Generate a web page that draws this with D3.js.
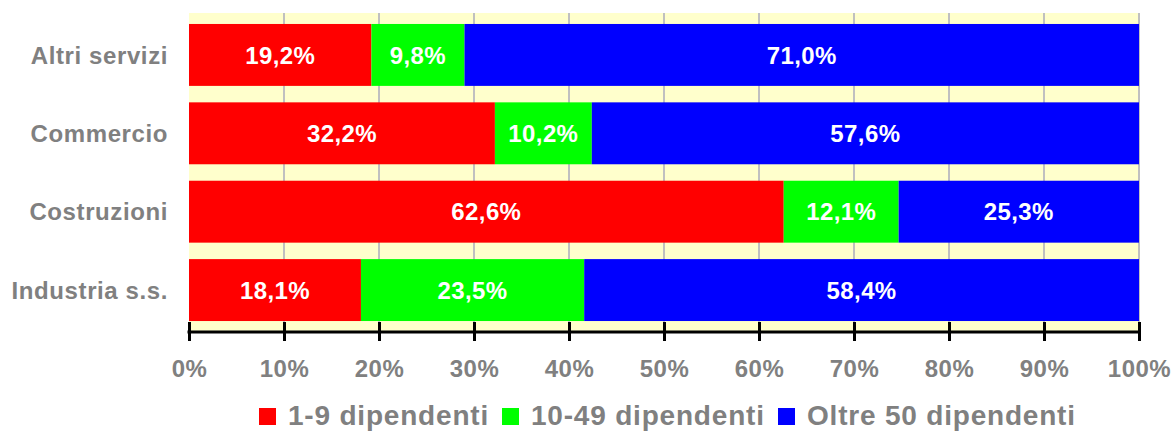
<!DOCTYPE html>
<html>
<head>
<meta charset="utf-8">
<script src="https://cdn.jsdelivr.net/npm/d3@7"></script>
<style>
  body { margin: 0; background: #fff; }
  text { font-family: "Liberation Sans", Arial, sans-serif; font-weight: bold; }
</style>
</head>
<body>
<svg width="1175" height="432"></svg>
<script>
// categories, top to bottom
const categories = ["Altri servizi", "Commercio", "Costruzioni", "Industria s.s."]
const seriesNames = ["1-9 dipendenti", "10-49 dipendenti", "Oltre 50 dipendenti"]
const seriesColors = ["#FF0000", "#00FF00", "#0000FF"]
const small = [19.2, 32.2, 62.6, 18.1]
const medium = [9.8, 10.2, 12.1, 23.5]
const large = [71.0, 57.6, 25.3, 58.4]
const tickValues = [0, 10, 20, 30, 40, 50, 60, 70, 80, 90, 100]

const svg = d3.select("svg")
const plotLeft = 189, plotRight = 1139, plotTop = 13, plotBottom = 332

const x = d3.scaleLinear().domain([0, 100]).range([plotLeft, plotRight])
const y = d3.scaleBand().domain(categories).range([plotTop, plotBottom]).paddingInner(0.21).paddingOuter(0.14)

// plot background
svg.append("rect")
    .attr("x", plotLeft).attr("y", plotTop)
    .attr("width", plotRight - plotLeft).attr("height", plotBottom - plotTop)
    .attr("fill", "#FFFFCC")

// gridlines
svg.append("g")
    .selectAll("line")
    .data(tickValues.slice(1))
    .enter().append("line")
    .attr("x1", d => x(d)).attr("x2", d => x(d))
    .attr("y1", plotTop).attr("y2", plotBottom)
    .attr("stroke", "#C0C0C0")
    .attr("stroke-width", 2)

// stack the rows
const rows = categories.map((c, i) => ({ cat: c, vals: [small[i], medium[i], large[i]] }))
const segs = []
rows.forEach(r => {
    let acc = 0
    r.vals.forEach((v, k) => {
        segs.push({ cat: r.cat, x0: acc, x1: acc + v, v: v, k: k })
        acc += v
    })
})

svg.append("g")
    .selectAll("rect")
    .data(segs)
    .enter().append("rect")
    .attr("x", d => x(d.x0))
    .attr("width", d => x(d.x1) - x(d.x0))
    .attr("y", d => y(d.cat))
    .attr("height", y.bandwidth())
    .attr("fill", d => seriesColors[d.k])

svg.append("g")
    .selectAll("text")
    .data(segs)
    .enter().append("text")
    .attr("x", d => (x(d.x0) + x(d.x1)) / 2)
    .attr("y", d => y(d.cat) + y.bandwidth() / 2)
    .attr("dy", "0.36em")
    .attr("text-anchor", "middle")
    .attr("fill", "#fff")
    .attr("font-size", 24)
    .attr("letter-spacing", 0.4)
    .text(d => d.v.toFixed(1).replace(".", ",") + "%")

// category labels
svg.append("g")
    .selectAll("text")
    .data(categories)
    .enter().append("text")
    .attr("x", 168)
    .attr("y", d => y(d) + y.bandwidth() / 2)
    .attr("dy", "0.36em")
    .attr("text-anchor", "end")
    .attr("fill", "#808080")
    .attr("font-size", 24)
    .attr("letter-spacing", 0.6)
    .text(d => d)

// x axis
const axis = svg.append("g")
    .attr("transform", "translate(0," + plotBottom + ")")
    .call(d3.axisBottom(x).tickValues(tickValues).tickSize(0).tickFormat(d => d + "%"))
axis.select(".domain").remove()
axis.append("line")
    .attr("x1", plotLeft - 1.5).attr("x2", plotRight + 1.5)
    .attr("stroke", "#000").attr("stroke-width", 3)
axis.selectAll(".tick").append("line")
    .attr("y1", -10).attr("y2", 9)
    .attr("stroke", "#000").attr("stroke-width", 3)
axis.selectAll(".tick text")
    .attr("y", 36)
    .attr("dy", "0.36em")
    .attr("fill", "#808080")
    .attr("font-size", 24)
    .attr("letter-spacing", 0.5)
    .attr("font-family", "Liberation Sans, Arial, sans-serif")
    .attr("font-weight", "bold")

// legend
const legendX = [259, 502, 778]
const legend = svg.append("g")
    .selectAll("g")
    .data(seriesNames)
    .enter().append("g")
    .attr("transform", (d, i) => "translate(" + legendX[i] + ",408)")
legend.append("rect")
    .attr("width", 17).attr("height", 17)
    .attr("fill", (d, i) => seriesColors[i])
legend.append("text")
    .attr("x", 29).attr("y", 17)
    .attr("fill", "#808080")
    .attr("font-size", 28)
    .attr("letter-spacing", 0.8)
    .text(d => d)
</script>
</body>
</html>
